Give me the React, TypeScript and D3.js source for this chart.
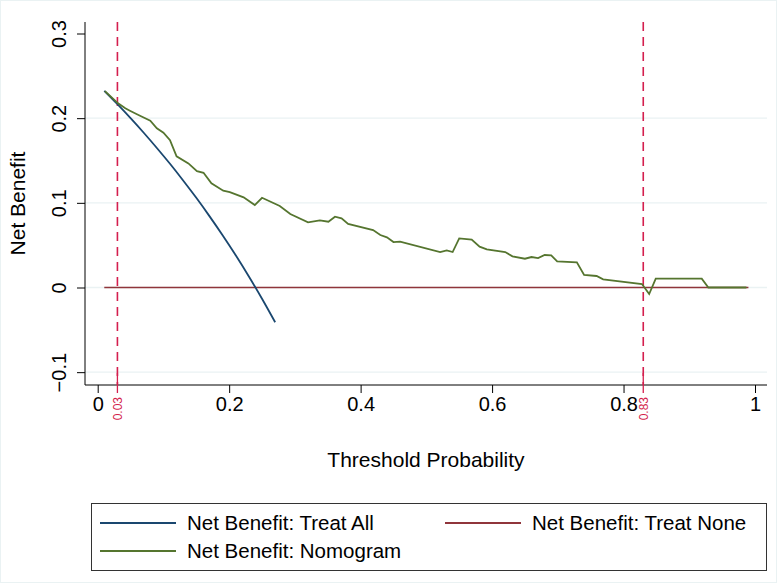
import React, { useEffect, useRef } from 'react';
import * as d3 from 'd3';

// Decision curve: net benefit vs threshold probability

const treatAllPt = [0.01, 0.03, 0.05, 0.07, 0.09, 0.11, 0.13, 0.15, 0.17, 0.19, 0.21, 0.23, 0.25, 0.27];
const treatAllNb = [0.2323, 0.2165, 0.2, 0.1828, 0.1648, 0.1461, 0.1264, 0.1059, 0.0843, 0.0617, 0.038, 0.013, -0.0133, -0.0411];

const treatNonePt = [0.01, 0.99];
const treatNoneNb = [0, 0];

const nomoPt = [
    0.011, 0.031, 0.042, 0.049, 0.062, 0.08, 0.09, 0.1, 0.11, 0.12, 0.138, 0.151, 0.161, 0.173, 0.191,
    0.201, 0.222, 0.239, 0.25, 0.277, 0.293, 0.32, 0.338, 0.351, 0.361, 0.371, 0.381, 0.419, 0.43, 0.44,
    0.45, 0.46, 0.521, 0.531, 0.54, 0.55, 0.569, 0.581, 0.592, 0.62, 0.631, 0.65, 0.66, 0.67, 0.68,
    0.69, 0.699, 0.729, 0.74, 0.759, 0.769, 0.828, 0.839, 0.849, 0.919, 0.929, 0.987
];
const nomoNb = [
    0.232, 0.2175, 0.2116, 0.2088, 0.2037, 0.197, 0.188, 0.1828, 0.174, 0.155, 0.1466, 0.1375, 0.1355, 0.123, 0.1143,
    0.1127, 0.1065, 0.0974, 0.106, 0.0962, 0.0868, 0.077, 0.0793, 0.0777, 0.0836, 0.0817, 0.075, 0.0679, 0.062, 0.0593,
    0.0537, 0.0541, 0.0419, 0.0439, 0.0419, 0.058, 0.0565, 0.0482, 0.0451, 0.0419, 0.0368, 0.034, 0.036, 0.0348, 0.0384,
    0.038, 0.0309, 0.0298, 0.0148, 0.0136, 0.0097, 0.0041, -0.0077, 0.0104, 0.0104, 0, 0
];

const xTicks = [0, 0.2, 0.4, 0.6, 0.8, 1];
const yTicks = [-0.1, 0, 0.1, 0.2, 0.3];
const cutoffs = [0.03, 0.83];

const legendItems = [
    { label: 'Net Benefit: Treat All', color: '#1a476f' },
    { label: 'Net Benefit: Treat None', color: '#90353b' },
    { label: 'Net Benefit: Nomogram', color: '#55752f' },
];

export default function App() {
    const svgRef = useRef<SVGSVGElement>(null);

    useEffect(() => {
        if (!svgRef.current) return;
        const width = 777;
        const height = 583;
        const font = 'Arial, "Liberation Sans", sans-serif';

        const svg = d3.select(svgRef.current)
            .attr('width', width)
            .attr('height', height)
            .style('background', '#fff');
        svg.selectAll('*').remove();

        const plot = { left: 85, right: 767, top: 22, bottom: 385 };

        const x = d3.scaleLinear().domain([0, 1]).range([97.7, 755]);
        const y = d3.scaleLinear().domain([0, 0.3]).range([287.5, 33.5]);

        // faint outer frame
        svg.append('rect')
            .attr('x', 0.5).attr('y', 0.5)
            .attr('width', width - 1).attr('height', height - 1)
            .attr('fill', 'none').attr('stroke', '#eaf2f3');

        // grid lines
        svg.append('g')
            .selectAll('line')
            .data(yTicks.filter(t => t < 0.25))
            .enter()
            .append('line')
            .attr('x1', plot.left).attr('x2', plot.right)
            .attr('y1', d => y(d)).attr('y2', d => y(d))
            .attr('stroke', '#eaf2f3').attr('stroke-width', 1.3);

        // y axis
        const gy = svg.append('g')
            .attr('transform', `translate(${plot.left},0)`)
            .call(d3.axisLeft(y).tickValues(yTicks).tickSize(8));
        gy.select('.domain').remove();
        gy.selectAll('line').attr('stroke', '#000');
        gy.selectAll('.tick text').remove();
        gy.selectAll('.tick')
            .append('text')
            .attr('transform', 'translate(-19,0) rotate(-90)')
            .attr('text-anchor', 'middle')
            .attr('font-family', font).attr('font-size', 20).attr('fill', '#000')
            .text(d => d3.format('~g')(d as number));

        svg.append('line')
            .attr('x1', plot.left).attr('x2', plot.left)
            .attr('y1', plot.top).attr('y2', plot.bottom)
            .attr('stroke', '#000');

        // x axis
        const gx = svg.append('g')
            .attr('transform', `translate(0,${plot.bottom})`)
            .call(d3.axisBottom(x).tickValues(xTicks).tickSize(8).tickPadding(4).tickFormat(d => d3.format('~g')(d as number)));
        gx.select('.domain').remove();
        gx.selectAll('line').attr('stroke', '#000');
        gx.selectAll('text').attr('font-family', font).attr('font-size', 20).attr('fill', '#000');

        svg.append('line')
            .attr('x1', plot.left).attr('x2', plot.right)
            .attr('y1', plot.bottom).attr('y2', plot.bottom)
            .attr('stroke', '#000');

        // cutoff lines
        svg.selectAll('line.cut')
            .data(cutoffs)
            .enter()
            .append('line')
            .attr('class', 'cut')
            .attr('x1', d => x(d)).attr('x2', d => x(d))
            .attr('y1', plot.top).attr('y2', plot.bottom)
            .attr('stroke', '#d41f4e').attr('stroke-width', 1.6)
            .attr('stroke-dasharray', '9,6');

        svg.selectAll('line.cuttick')
            .data(cutoffs)
            .enter()
            .append('line')
            .attr('class', 'cuttick')
            .attr('x1', d => x(d)).attr('x2', d => x(d))
            .attr('y1', plot.bottom - 12).attr('y2', plot.bottom + 8)
            .attr('stroke', '#d41f4e').attr('stroke-width', 1.3);

        svg.selectAll('text.cutlabel')
            .data(cutoffs)
            .enter()
            .append('text')
            .attr('class', 'cutlabel')
            .attr('transform', d => `translate(${x(d) + 4.5},${plot.bottom + 12}) rotate(-90)`)
            .attr('text-anchor', 'end')
            .attr('font-family', font).attr('font-size', 12).attr('fill', '#d41f4e')
            .text(d => d3.format('.2f')(d));

        const line = d3.line<[number, number]>()
            .x(d => x(d[0]))
            .y(d => y(d[1]));

        const treatAll = treatAllPt.map((p, i) => [p, treatAllNb[i]] as [number, number]);
        const treatNone = treatNonePt.map((p, i) => [p, treatNoneNb[i]] as [number, number]);
        const nomo = nomoPt.map((p, i) => [p, nomoNb[i]] as [number, number]);

        svg.append('path')
            .datum(treatNone)
            .attr('d', line)
            .attr('fill', 'none').attr('stroke', legendItems[1].color).attr('stroke-width', 1.6);

        svg.append('path')
            .datum(treatAll)
            .attr('d', line.curve(d3.curveMonotoneX))
            .attr('fill', 'none').attr('stroke', legendItems[0].color).attr('stroke-width', 1.8);

        svg.append('path')
            .datum(nomo)
            .attr('d', line.curve(d3.curveLinear))
            .attr('fill', 'none').attr('stroke', legendItems[2].color).attr('stroke-width', 1.8);

        // axis titles
        svg.append('text')
            .attr('transform', `translate(25,${(plot.top + plot.bottom) / 2}) rotate(-90)`)
            .attr('text-anchor', 'middle')
            .attr('font-family', font).attr('font-size', 21).attr('fill', '#000')
            .text('Net Benefit');

        svg.append('text')
            .attr('x', (plot.left + plot.right) / 2).attr('y', 467)
            .attr('text-anchor', 'middle')
            .attr('font-family', font).attr('font-size', 21).attr('fill', '#000')
            .text('Threshold Probability');

        // legend
        const lg = svg.append('g');
        lg.append('rect')
            .attr('x', 91.5).attr('y', 503.5).attr('width', 675).attr('height', 67)
            .attr('fill', '#fff').attr('stroke', '#333').attr('stroke-width', 1);

        const pos = [
            { lx: 100, ty: 523 },
            { lx: 445, ty: 523 },
            { lx: 100, ty: 551 },
        ];
        legendItems.forEach((it, i) => {
            const p = pos[i];
            lg.append('line')
                .attr('x1', p.lx).attr('x2', p.lx + 76)
                .attr('y1', p.ty).attr('y2', p.ty)
                .attr('stroke', it.color).attr('stroke-width', 1.8);
            lg.append('text')
                .attr('x', p.lx + 87).attr('y', p.ty)
                .attr('dy', '0.35em')
                .attr('font-family', font).attr('font-size', 20.5).attr('fill', '#000')
                .text(it.label);
        });
    }, []);

    return (
        <div style={{ position: 'absolute', left: 0, top: 0 }}>
            <svg ref={svgRef}></svg>
        </div>
    );
}
